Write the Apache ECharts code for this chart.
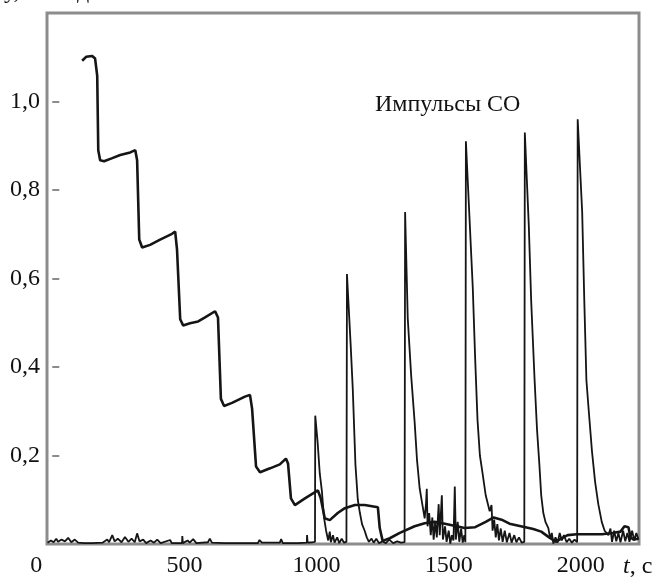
<!DOCTYPE html>
<html>
<head>
<meta charset="utf-8">
<script src="https://cdn.jsdelivr.net/npm/echarts@6/dist/echarts.min.js"></script>
<style>
  html, body { margin: 0; padding: 0; background: #fff; }
  #chart { width: 657px; height: 578px; }
</style>
</head>
<body>
<div id="chart"></div>
<script>
// tick labels
const xTicks = [0, 500, 1000, 1500, 2000]
const yTicks = [0.2, 0.4, 0.6, 0.8, 1.0]

// stepped curve, then the low background after ~1050 s
const convT = [113, 128, 151, 162, 170, 174, 181, 196, 227, 257, 295, 314, 321, 329, 340, 370, 408, 453, 465, 472, 484, 495, 521, 552, 578, 616, 627, 638, 650, 680, 729, 748, 756, 771, 786, 824, 861, 884, 892, 903, 918, 956, 1005, 1016, 1031, 1050, 1080, 1107, 1145, 1182, 1232, 1239, 1250, 1277, 1315, 1371, 1409, 1447, 1490, 1530, 1560, 1600, 1640, 1670, 1700, 1730, 1760, 1790, 1820, 1850, 1880, 1905, 1925, 1950, 1985, 2030, 2080, 2120, 2150, 2165, 2180, 2188, 2200, 2218]
const convY = [1.092, 1.101, 1.103, 1.097, 1.058, 0.89, 0.867, 0.865, 0.872, 0.879, 0.885, 0.89, 0.867, 0.688, 0.67, 0.676, 0.688, 0.701, 0.706, 0.665, 0.508, 0.494, 0.499, 0.503, 0.512, 0.526, 0.512, 0.328, 0.312, 0.319, 0.333, 0.337, 0.306, 0.175, 0.162, 0.171, 0.18, 0.193, 0.182, 0.103, 0.088, 0.103, 0.121, 0.103, 0.058, 0.054, 0.07, 0.081, 0.088, 0.088, 0.083, 0.036, 0.007, 0.013, 0.025, 0.04, 0.047, 0.05, 0.045, 0.04, 0.036, 0.038, 0.05, 0.06, 0.055, 0.046, 0.042, 0.038, 0.034, 0.028, 0.015, 0.005, 0.012, 0.02, 0.022, 0.022, 0.022, 0.025, 0.028, 0.04, 0.038, 0.015, 0.01, 0.012]

// CO pulses with the noisy baseline
const coT = [-18, -5, 5, 15, 22, 35, 48, 60, 72, 85, 98, 120, 150, 190, 208, 215, 227, 236, 248, 262, 275, 288, 300, 312, 321, 330, 344, 355, 372, 385, 397, 410, 446, 452, 491, 492, 494, 512, 520, 533, 545, 589, 596, 604, 650, 700, 778, 784, 793, 861, 866, 872, 930, 963, 964, 966, 985,
  994, 995, 1000, 1004, 1012, 1020, 1028, 1036, 1044, 1050, 1054, 1062, 1068, 1078, 1086, 1095, 1104, 1113,
  1114, 1115, 1122, 1129, 1137, 1147, 1156, 1164, 1172, 1182, 1190, 1198, 1208, 1216, 1226, 1236, 1250, 1262, 1275, 1290, 1305, 1320, 1333,
  1334, 1335, 1341, 1345, 1358, 1371, 1380, 1390, 1400, 1409, 1414, 1417, 1420, 1426, 1432, 1438, 1443, 1449, 1455, 1462, 1466, 1474, 1478, 1486, 1492, 1500, 1506, 1512, 1518, 1523, 1527, 1534, 1540, 1547, 1553, 1559, 1563,
  1564, 1565, 1572, 1591, 1600, 1609, 1618, 1628, 1640, 1655, 1662, 1666, 1672, 1678, 1684, 1690, 1697, 1704, 1712, 1720, 1730, 1738, 1748, 1756, 1766, 1776, 1786,
  1787, 1788, 1794, 1803, 1812, 1825, 1834, 1843, 1850, 1858, 1866, 1877, 1884, 1890, 1896, 1904, 1912, 1920, 1928, 1936, 1946, 1956, 1966, 1976, 1986,
  1987, 1988, 1995, 2005, 2013, 2021, 2030, 2042, 2054, 2066, 2079, 2090, 2104, 2112, 2118, 2126, 2134, 2142, 2150, 2160, 2168, 2176, 2184, 2194, 2202, 2210, 2218]
const coY = [0.003, 0.008, 0.004, 0.012, 0.005, 0.01, 0.006, 0.014, 0.004, 0.01, 0.003, 0.002, 0.002, 0.003, 0.01, 0.004, 0.02, 0.006, 0.012, 0.004, 0.016, 0.005, 0.012, 0.004, 0.024, 0.006, 0.01, 0.002, 0.008, 0.003, 0.01, 0.002, 0.009, 0.002, 0.002, 0.018, 0.002, 0.008, 0.003, 0.011, 0.002, 0.004, 0.012, 0.003, 0.002, 0.002, 0.002, 0.009, 0.003, 0.003, 0.011, 0.002, 0.002, 0.003, 0.02, 0.003, 0.004,
  0.005, 0.29, 0.29, 0.23, 0.16, 0.12, 0.06, 0.03, 0.008, 0.028, 0.004, 0.02, 0.003, 0.015, 0.002, 0.012, 0.003, 0.005,
  0.005, 0.61, 0.61, 0.45, 0.35, 0.18, 0.1, 0.07, 0.045, 0.03, 0.015, 0.005, 0.012, 0.003, 0.012, 0.002, 0.006, 0.002, 0.01, 0.002, 0.006, 0.003, 0.004,
  0.004, 0.75, 0.75, 0.51, 0.38, 0.276, 0.19, 0.126, 0.09, 0.058, 0.09, 0.125, 0.04, 0.07, 0.02, 0.06, 0.01, 0.05, 0.015, 0.09, 0.02, 0.11, 0.01, 0.04, 0.005, 0.03, 0.001, 0.02, 0.008, 0.13, 0.01, 0.05, 0.005, 0.035, 0.003, 0.02, 0.004,
  0.004, 0.91, 0.91, 0.58, 0.42, 0.28, 0.2, 0.16, 0.11, 0.074, 0.088, 0.03, 0.055, 0.015, 0.045, 0.008, 0.035, 0.005, 0.03, 0.004, 0.025, 0.003, 0.02, 0.004, 0.015, 0.003, 0.005,
  0.005, 0.93, 0.93, 0.72, 0.55, 0.37, 0.26, 0.18, 0.11, 0.07, 0.05, 0.036, 0.012, 0.025, 0.001, 0.015, 0.003, 0.025, 0.008, 0.02, 0.004, 0.012, 0.003, 0.01, 0.004,
  0.004, 0.96, 0.96, 0.75, 0.55, 0.37, 0.3, 0.21, 0.14, 0.09, 0.05, 0.03, 0.02, 0.035, 0.005, 0.03, 0.006, 0.025, 0.004, 0.03, 0.006, 0.025, 0.005, 0.03, 0.008, 0.025, 0.01]

const zip = (a, b) => a.map((t, i) => [t, b[i]])
const serif = '"Liberation Serif", "DejaVu Serif", serif'

let myChart = null

function initChart() {
    myChart = echarts.init(document.getElementById('chart'))
    const option = {
        animation: false,
        grid: {
            show: true,
            left: 47,
            right: 18,
            top: 13,
            bottom: 33,
            borderColor: '#8c8c8c',
            borderWidth: 3
        },
        xAxis: {
            type: 'value',
            min: -20,
            max: 2220,
            axisLine: { show: false },
            axisTick: { show: false },
            splitLine: { show: false },
            axisLabel: {
                customValues: xTicks,
                margin: 10,
                color: '#111',
                fontFamily: serif,
                fontSize: 24,
                // the 0 sits left of the axis in the source
                formatter: v => v === 0 ? '{s|0}' : String(v),
                rich: { s: { padding: [0, 32, 0, 0], fontFamily: serif, fontSize: 24, color: '#111' } }
            }
        },
        yAxis: {
            type: 'value',
            min: 0,
            max: 1.2,
            axisLine: { show: false },
            splitLine: { show: false },
            axisTick: {
                customValues: yTicks,
                inside: true,
                length: 7,
                lineStyle: { color: '#8c8c8c', width: 2 }
            },
            axisLabel: {
                customValues: yTicks,
                margin: 7,
                color: '#111',
                fontFamily: serif,
                fontSize: 24,
                formatter: v => v.toFixed(1).replace('.', ',')
            }
        },
        graphic: [
            {
                type: 'text', left: 375, top: 93,
                style: { text: 'Импульсы СО', fill: '#111', font: '24px ' + serif }
            },
            {
                type: 'text', left: 623, top: 555,
                style: {
                    text: '{i|t}{n|, с}',
                    rich: {
                        i: { fontFamily: serif, fontSize: 24, fontStyle: 'italic', fill: '#111' },
                        n: { fontFamily: serif, fontSize: 24, fill: '#111' }
                    }
                }
            },
            {
                type: 'text', left: 4, top: -20,
                style: { text: 'у, отн.ед.', fill: '#111', font: '24px ' + serif }
            }
        ],
        series: [
            {
                name: 'conv',
                type: 'line',
                data: zip(convT, convY),
                showSymbol: false,
                lineStyle: { color: '#151515', width: 2.6 },
                z: 3
            },
            {
                name: 'CO',
                type: 'line',
                data: zip(coT, coY),
                showSymbol: false,
                lineStyle: { color: '#151515', width: 1.8 },
                z: 2
            }
        ]
    }
    myChart.setOption(option, true)
    window.addEventListener('resize', () => myChart.resize())
}

initChart()
</script>
</body>
</html>
